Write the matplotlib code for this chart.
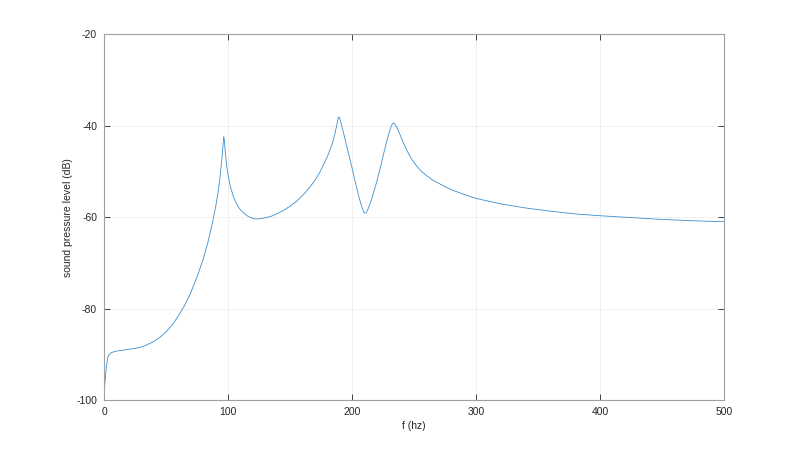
import matplotlib
matplotlib.use("Agg")
import matplotlib.pyplot as plt

freq = [0, 0.5, 1, 2, 3, 4, 6, 10, 15, 20, 25, 30, 35, 40, 45, 50, 55, 60, 65, 70,
        75, 80, 84, 87, 90, 92, 93.5, 95, 96, 96.5, 97, 97.5, 98, 99, 100, 101, 102,
        104, 106, 108, 110, 113, 116, 120, 123, 127, 131, 135, 140, 145, 150, 155,
        160, 165, 170, 174, 178, 181, 184, 186, 187.5, 188.5, 189.2, 190, 191, 192,
        194, 196, 198, 200, 202, 204, 206, 208, 209.5, 210.5, 211.5, 213, 215, 217,
        220, 223, 226, 229, 231, 232.5, 233.5, 234.5, 236, 238, 240, 242, 245, 248,
        252, 256, 260, 265, 272, 280, 290, 300, 320, 340, 360, 380, 400, 425, 450,
        475, 500]
spl = [-102, -97, -95.5, -92.5, -90.8, -90.1, -89.6, -89.3, -89.1, -88.9, -88.7,
       -88.4, -87.9, -87.2, -86.3, -85.1, -83.6, -81.6, -79.3, -76.5, -73.1, -69.2,
       -65.3, -61.8, -57.8, -54.6, -51.5, -47.5, -44.2, -42.4, -43.0, -44.8, -46.4,
       -48.9, -50.7, -52.2, -53.4, -55.2, -56.6, -57.6, -58.4, -59.2, -59.8, -60.3,
       -60.4, -60.3, -60.1, -59.8, -59.2, -58.5, -57.6, -56.6, -55.3, -53.8, -52.0,
       -50.2, -48.0, -46.2, -44.0, -42.0, -40.2, -38.8, -38.1, -38.4, -39.3, -40.3,
       -42.5, -44.8, -47.0, -49.2, -51.6, -53.8, -56.0, -57.8, -58.9, -59.2, -59.0,
       -58.2, -56.7, -55.0, -52.2, -49.0, -45.6, -42.4, -40.6, -39.6, -39.4, -39.6,
       -40.3, -41.5, -42.8, -44.1, -45.8, -47.3, -48.8, -50.0, -50.9, -51.9, -52.9,
       -54.0, -55.0, -55.9, -57.1, -58.0, -58.7, -59.3, -59.7, -60.1, -60.5, -60.8,
       -61.0]

xticks = [0, 100, 200, 300, 400, 500]
yticks = [-100, -80, -60, -40, -20]

plt.rcParams['font.family'] = ['Liberation Sans', 'DejaVu Sans']
fig = plt.figure(figsize=(8, 4.5), dpi=100)
ax = fig.add_axes([0.13, 0.111, 0.775, 0.813])
ax.plot(freq, spl, color='#3a8fcf', lw=0.6)
ax.set_xlim(0, 500)
ax.set_ylim(-100, -20)
ax.set_xticks(xticks)
ax.set_yticks(yticks)
ax.set_xticklabels([str(t) for t in xticks])
ax.set_yticklabels([str(t) for t in yticks])
ax.grid(True, color='#e6e6e6', linestyle=(0, (2, 1)), linewidth=0.6)
ax.tick_params(direction='in', length=4, width=0.6, colors='#262626',
               labelsize=7.5, top=True, right=True, pad=5)
for s in ax.spines.values():
    s.set_color('#a0a0a0')
    s.set_linewidth(0.8)
ax.set_xlabel('f (hz)', fontsize=7.5, color='#262626', labelpad=3)
ax.set_ylabel('sound pressure level (dB)', fontsize=7.5, color='#262626', labelpad=2)
fig.savefig('out.png', dpi=100)
